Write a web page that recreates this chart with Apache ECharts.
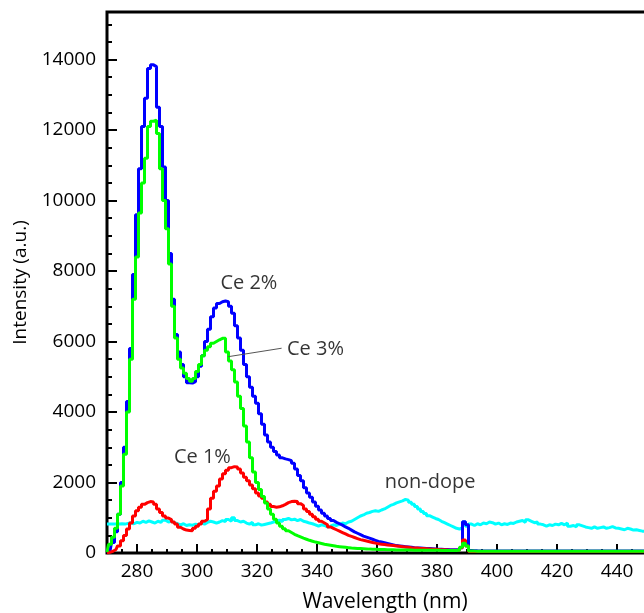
<!DOCTYPE html>
<html><head><meta charset="utf-8">
<script src="https://cdn.jsdelivr.net/npm/echarts@6/dist/echarts.min.js"></script>
<style>html,body{margin:0;padding:0;background:#fff;overflow:hidden}#c{width:644px;height:613px}</style>
</head><body><div id="c"></div>
<script>
const wavelength = [
270,271,272,273,274,275,276,277,278,279,
280,281,282,283,284,285,286,287,288,289,
290,291,292,293,294,295,296,297,298,299,
300,301,302,303,304,305,306,307,308,309,
310,311,312,313,314,315,316,317,318,319,
320,321,322,323,324,325,326,327,328,329,
330,331,332,333,334,335,336,337,338,339,
340,341,342,343,344,345,346,347,348,349,
350,351,352,353,354,355,356,357,358,359,
360,361,362,363,364,365,366,367,368,369,
370,371,372,373,374,375,376,377,378,379,
380,381,382,383,384,385,386,387,388,389,
390,391,392,393,394,395,396,397,398,399,
400,401,402,403,404,405,406,407,408,409,
410,411,412,413,414,415,416,417,418,419,
420,421,422,423,424,425,426,427,428,429,
430,431,432,433,434,435,436,437,438,439,
440,441,442,443,444,445,446,447,448,449,450];

const ce2 = [
0,50,300,600,1100,2000,3000,4300,5800,7900,
9600,10900,12100,12900,13750,13850,13800,12650,12100,10950,
10000,8500,7200,6200,5700,5350,5000,4830,4820,4860,
5000,5300,5600,6000,6350,6700,6950,7080,7130,7150,
7130,7000,6800,6450,6100,5750,5350,5000,4700,4450,
4250,3950,3650,3350,3150,3000,2880,2780,2700,2670,
2650,2620,2550,2380,2200,2050,1850,1700,1580,1450,
1330,1220,1130,1050,980,920,870,830,790,740,
700,650,600,560,520,480,450,420,390,360,
330,310,290,270,250,230,210,200,190,180,
170,160,150,145,140,135,130,125,120,115,
110,105,100,100,95,95,90,90,150,890,
800,70,65,62,60,60,60,60,60,60,
60,60,60,60,60,60,60,60,60,60,
58,58,58,58,58,58,58,58,58,58,
56,56,56,56,56,56,56,56,56,56,
55,55,55,55,55,55,55,55,55,55,
55,55,55,55,55,55,55,55,55,55,55];

const ce3 = [
30,250,450,700,1100,1900,2800,4000,5500,7200,
8400,9650,10500,11200,12100,12250,12280,11900,10900,10000,
9200,8200,7000,6100,5500,5250,5100,4950,4870,4950,
5150,5350,5600,5750,5850,5950,6000,6050,6090,6090,
5700,5450,5200,4850,4450,4100,3600,3150,2700,2300,
2000,1800,1600,1420,1250,1100,960,850,760,690,
630,580,530,490,455,420,390,360,335,310,
290,270,250,235,220,205,190,180,170,160,
150,140,135,130,125,120,115,110,108,105,
100,98,96,94,92,90,88,86,85,84,
83,82,81,80,80,79,78,77,76,75,
75,74,73,72,72,71,70,80,160,280,
200,60,55,52,50,50,50,50,50,50,
50,50,50,50,50,50,50,50,50,50,
50,50,50,50,50,50,50,50,50,50,
50,50,50,50,50,50,50,50,50,50,
50,50,50,50,50,50,50,50,50,50,
50,50,50,50,50,50,50,50,50,50,50];

const ce1 = [
0,20,50,100,200,350,500,680,850,1050,
1200,1300,1380,1430,1460,1450,1380,1250,1150,1050,
990,950,880,820,730,680,650,640,630,700,
760,820,900,950,1250,1550,1750,1900,2100,2250,
2350,2420,2450,2440,2380,2270,2150,2050,1930,1820,
1700,1620,1550,1450,1380,1320,1300,1310,1340,1380,
1430,1460,1470,1460,1400,1350,1250,1180,1100,1030,
960,900,850,800,740,700,660,620,580,540,
500,470,440,410,380,360,340,320,300,280,
260,250,240,230,220,210,200,190,180,170,
160,150,145,140,130,125,120,115,110,105,
100,95,90,85,80,80,75,75,150,370,
200,45,40,40,40,40,40,40,40,40,
40,40,40,40,40,40,40,40,40,40,
40,40,40,40,40,40,40,40,40,40,
40,40,40,40,40,40,40,40,40,40,
40,40,40,40,40,40,40,40,40,40,
40,40,40,40,40,40,40,40,40,40,40];

const nonDope = [
820,820,820,820,820,830,820,840,860,830,
870,850,900,870,910,880,850,900,870,930,
880,900,860,830,800,830,780,800,790,820,
800,850,820,870,900,880,850,880,920,890,
950,900,1000,920,880,900,850,820,870,800,
830,790,810,830,850,880,900,930,890,950,
980,940,960,920,950,900,880,850,830,800,
760,800,780,740,760,800,780,820,850,830,
880,900,950,1000,1050,1080,1130,1150,1180,1200,
1180,1220,1250,1300,1350,1380,1420,1450,1480,1520,
1500,1440,1380,1320,1250,1180,1120,1060,1020,980,
950,900,860,820,780,740,700,680,720,880,
760,820,780,830,800,850,830,880,860,820,
850,800,830,810,850,840,880,900,920,870,
940,900,860,880,820,800,760,800,780,820,
800,840,800,850,760,780,740,800,770,740,
720,700,740,700,720,740,700,720,750,710,
700,680,660,700,680,650,660,640,620,610,600];

const annoText = ['Ce 2%', 'Ce 3%', 'Ce 1%', 'non-dope'];
const annoX = [317.3, 339.5, 301.8, 377.7];
const annoY = [7660, 5780, 2720, 2010];
const leaderX = [310.4, 328.2];
const leaderY = [5570, 5810];

const xTitle = 'Wavelength (nm)';
const yTitle = 'Intensity (a.u.)';

const FONT = "'Open Sans', 'Noto Sans', sans-serif";
const pairs = arr => wavelength.map((w, i) => [w, arr[i]]);

function spectrum(name, arr, color) {
  return {
    name, type: 'line', step: 'middle', data: pairs(arr),
    xAxisIndex: 0, yAxisIndex: 0,
    showSymbol: false, symbol: 'none', clip: true, silent: true,
    lineStyle: { color, width: 3 }, itemStyle: { color }
  };
}

const chart = echarts.init(document.getElementById('c'), null, { renderer: 'canvas', width: 644, height: 613 });
chart.setOption({
  animation: false,
  backgroundColor: '#ffffff',
  grid: { left: 107, top: 12, width: 570, height: 541, show: true, borderColor: '#000', borderWidth: 3, backgroundColor: 'transparent', containLabel: false, outerBoundsMode: 'none' },
  xAxis: [
    {
      type: 'value', min: 270, max: 460, splitNumber: 10,
      axisLine: { show: false },
      axisTick: { show: true, inside: true, length: 9, lineStyle: { color: '#000', width: 2 } },
      axisLabel: { showMinLabel: false, color: '#000', fontSize: 19, fontFamily: FONT, margin: 9, formatter: v => String(v) },
      splitLine: { show: false },
      name: xTitle, nameLocation: 'middle', nameGap: 39,
      nameTextStyle: { color: '#000', fontSize: 21, fontFamily: FONT, padding: [0, 14, 0, 0] }
    },
    {
      type: 'value', min: 270, max: 460, interval: 5, position: 'bottom',
      axisLine: { show: false },
      axisTick: { show: true, inside: true, length: 4, lineStyle: { color: '#000', width: 2 } },
      axisLabel: { show: false }, splitLine: { show: false }
    }
  ],
  yAxis: [
    {
      type: 'value', min: 0, max: 15350, interval: 2000,
      axisLine: { show: false },
      axisTick: { show: true, inside: true, length: 10, lineStyle: { color: '#000', width: 2 } },
      axisLabel: { showMaxLabel: false, color: '#000', fontSize: 19, fontFamily: FONT, margin: 11, formatter: v => String(v) },
      splitLine: { show: false },
      name: yTitle, nameLocation: 'middle', nameGap: 77,
      nameTextStyle: { color: '#000', fontSize: 19, fontFamily: FONT }
    },
    {
      type: 'value', min: 0, max: 15350, interval: 500, position: 'left',
      axisLine: { show: false },
      axisTick: { show: true, inside: true, length: 5, lineStyle: { color: '#000', width: 2 } },
      axisLabel: { show: false }, splitLine: { show: false }
    }
  ],
  series: [
    spectrum('non-dope', nonDope, '#00ffff'),
    spectrum('Ce 2%', ce2, '#0000ff'),
    spectrum('Ce 1%', ce1, '#ff0000'),
    spectrum('Ce 3%', ce3, '#00ff00'),
    {
      name: 'leader', type: 'line', silent: true, showSymbol: false, symbol: 'none',
      data: leaderX.map((x, i) => [x, leaderY[i]]),
      lineStyle: { color: '#555', width: 1 }
    },
    {
      name: 'annotations', type: 'scatter', silent: true, symbolSize: 1,
      itemStyle: { color: 'rgba(0,0,0,0)' },
      data: annoX.map((x, i) => ({ value: [x, annoY[i]], name: annoText[i] })),
      label: { show: true, position: 'inside', formatter: p => p.name, color: '#000', fontSize: 20, fontFamily: FONT }
    }
  ]
});
</script>
</body></html>
